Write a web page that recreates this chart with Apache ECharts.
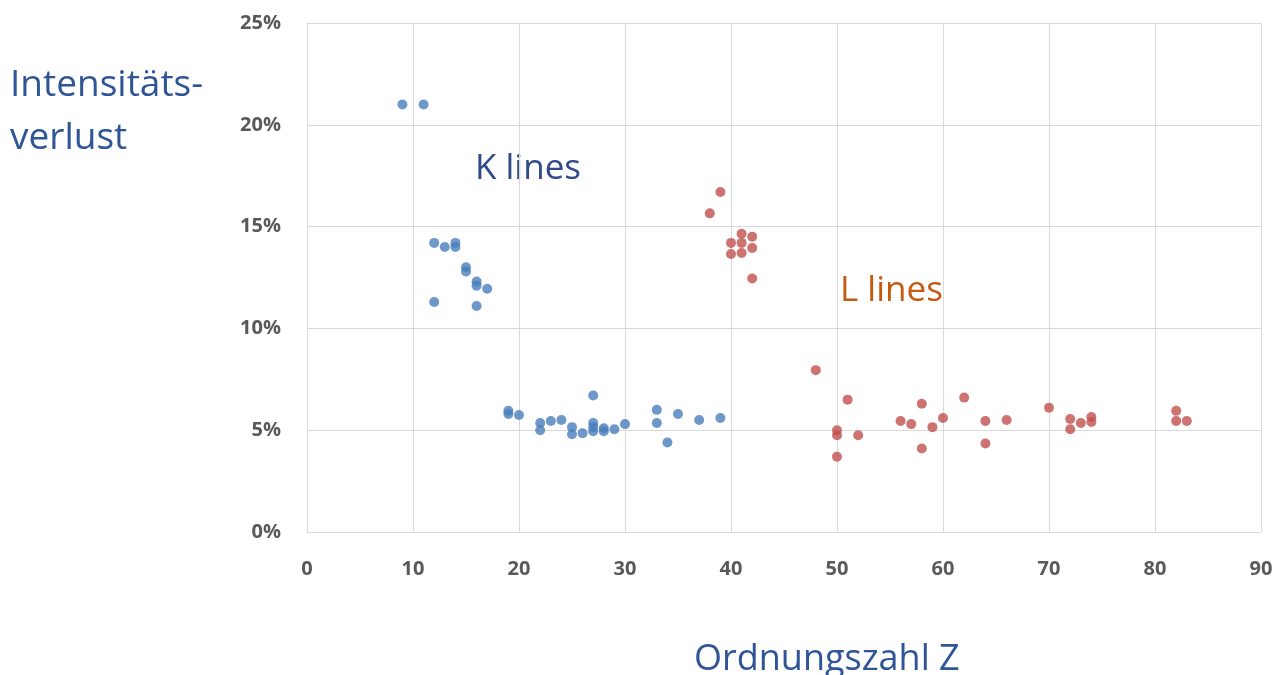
<!DOCTYPE html>
<html>
<head>
<meta charset="utf-8">
<script src="https://cdn.jsdelivr.net/npm/echarts@6/dist/echarts.min.js"></script>
<style>
  html, body { margin: 0; padding: 0; background: #fff; }
  #chart { width: 1284px; height: 675px; }
</style>
</head>
<body>
<div id="chart"></div>
<script>
// atomic number Z and intensity loss in %
const kZ = [9, 11, 12, 13, 14, 14, 15, 15, 16, 16, 17, 12, 16,
  19, 19, 20, 22, 22, 23, 24, 25, 25, 26, 27, 27, 27, 27, 28, 28, 29, 30,
  33, 33, 34, 35, 37, 39];
const kLoss = [21.0, 21.0, 14.2, 14.0, 14.2, 14.0, 13.0, 12.8, 12.3, 12.1, 11.95, 11.3, 11.1,
  5.95, 5.8, 5.75, 5.35, 5.0, 5.45, 5.5, 5.15, 4.8, 4.85, 6.7, 5.35, 5.15, 4.95, 5.1, 4.95, 5.05, 5.3,
  6.0, 5.35, 4.4, 5.8, 5.5, 5.6];

const lZ = [38, 39, 40, 40, 41, 41, 41, 42, 42, 42,
  48, 50, 50, 50, 51, 52, 56, 57, 58, 58, 59, 60, 62, 64, 64, 66,
  70, 72, 72, 73, 74, 74, 82, 82, 83];
const lLoss = [15.65, 16.7, 14.2, 13.65, 14.65, 14.2, 13.7, 14.5, 13.95, 12.45,
  7.95, 5.0, 4.75, 3.7, 6.5, 4.75, 5.45, 5.3, 6.3, 4.1, 5.15, 5.6, 6.6, 5.45, 4.35, 5.5,
  6.1, 5.55, 5.05, 5.35, 5.65, 5.4, 5.95, 5.45, 5.45];

const xTicks = [0, 10, 20, 30, 40, 50, 60, 70, 80, 90];
const yTicks = [0, 5, 10, 15, 20, 25];

const zip = (xs, ys) => xs.map((x, i) => [x, ys[i]]);

const chart = echarts.init(document.getElementById('chart'));
const tickFont = { color: '#595959', fontSize: 20, fontWeight: 'bold', fontFamily: 'Open Sans' };
const gridLine = { show: true, lineStyle: { color: '#d9d9d9', width: 1 } };

chart.setOption({
  animation: false,
  grid: { left: 307, right: 23, top: 23, bottom: 143 },
  xAxis: {
    type: 'value', min: xTicks[0], max: xTicks[xTicks.length - 1], interval: 10,
    axisLine: { show: true, lineStyle: { color: '#d9d9d9' } },
    axisTick: { show: false },
    splitLine: gridLine,
    axisLabel: Object.assign({ margin: 27 }, tickFont)
  },
  yAxis: {
    type: 'value', min: yTicks[0], max: yTicks[yTicks.length - 1], interval: 5,
    axisLine: { show: true, lineStyle: { color: '#d9d9d9' } },
    axisTick: { show: false },
    splitLine: gridLine,
    axisLabel: Object.assign({ margin: 26, formatter: '{value}%' }, tickFont)
  },
  series: [
    {
      name: 'K lines', type: 'scatter', symbolSize: 10,
      itemStyle: { color: '#4a7ebb' },
      data: zip(kZ, kLoss)
    },
    {
      name: 'L lines', type: 'scatter', symbolSize: 10,
      itemStyle: { color: '#c0504d' },
      data: zip(lZ, lLoss)
    }
  ],
  graphic: [
    { type: 'text', left: 10, top: 67, style: { text: 'Intensitäts-', fill: '#2f5597', font: '37px "Open Sans"' } },
    { type: 'text', left: 10, top: 120, style: { text: 'verlust', fill: '#2f5597', font: '37px "Open Sans"' } },
    { type: 'text', left: 475, top: 152, style: { text: 'K lines', fill: '#2f4a8a', font: '35px "Open Sans"' } },
    { type: 'text', left: 840, top: 274, style: { text: 'L lines', fill: '#c55a11', font: '35px "Open Sans"' } },
    { type: 'text', left: 694, top: 642, style: { text: 'Ordnungszahl Z', fill: '#2f5597', font: '36px "Open Sans"' } }
  ]
});
</script>
</body>
</html>
